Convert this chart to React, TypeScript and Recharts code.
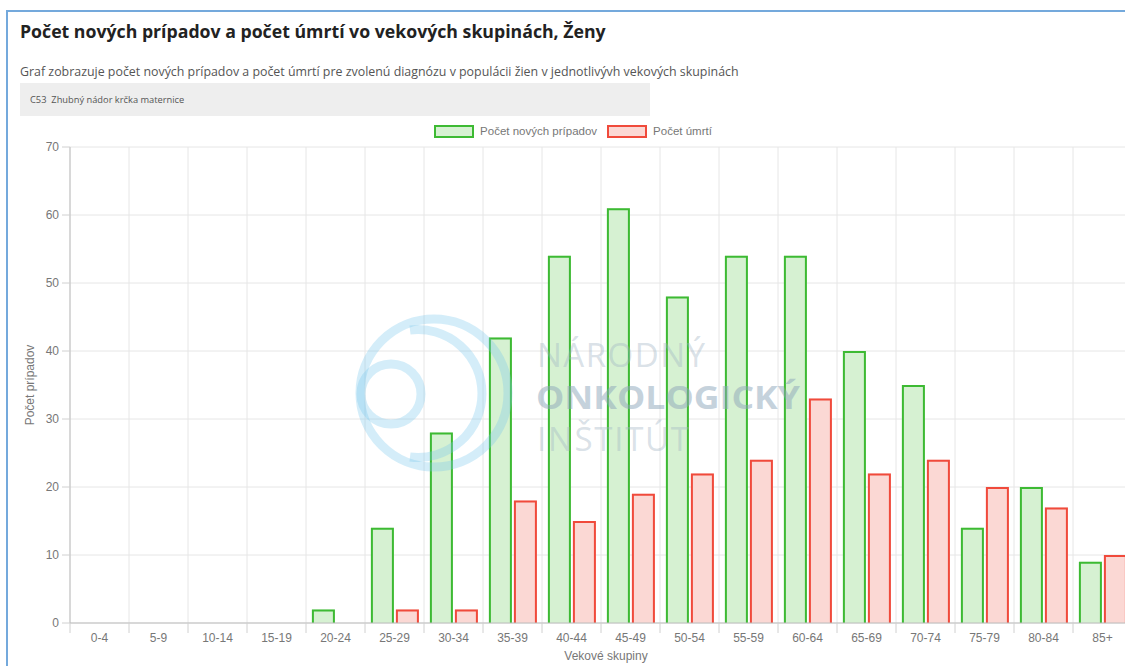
import { Bar, BarChart, CartesianGrid, Legend, XAxis, YAxis } from "recharts";

const ageGroups = [
  "0-4", "5-9", "10-14", "15-19", "20-24", "25-29", "30-34", "35-39", "40-44",
  "45-49", "50-54", "55-59", "60-64", "65-69", "70-74", "75-79", "80-84", "85+"
];
const newCases = [0, 0, 0, 0, 2, 14, 28, 42, 54, 61, 48, 54, 54, 40, 35, 14, 20, 9];
const deaths = [0, 0, 0, 0, 0, 2, 2, 18, 15, 19, 22, 24, 33, 22, 24, 20, 17, 10];
const yTicks = [0, 10, 20, 30, 40, 50, 60, 70];

const data = ageGroups.map((group, i) => ({ group, newCases: newCases[i], deaths: deaths[i] }));

const GREEN = "#3dba33";
const GREEN_FILL = "#d6f1d2";
const RED = "#f04a3b";
const RED_FILL = "#fbd8d4";
const AXIS_FONT = "'Liberation Sans', Arial, sans-serif";
const PAGE_FONT = "'Open Sans', 'Noto Sans', sans-serif";

const CHART_TOP = 114;
const CHART_W = 1140;
const CHART_H = 576;
const Y_AXIS_W = 70;
const MARGIN = { top: 7, right: 8, left: 0, bottom: 0 };
const PLOT_W = CHART_W - MARGIN.left - MARGIN.right - Y_AXIS_W;
const BAND = PLOT_W / ageGroups.length;

function OpenBar(props: any) {
  const { x, y, width, height, fill, stroke } = props;
  if (!height || height <= 0) return null;
  return (
    <g>
      <rect x={x} y={y} width={width} height={height} fill={fill} />
      <path
        d={`M${x + 1},${y + height} V${y + 1} H${x + width - 1} V${y + height}`}
        stroke={stroke}
        strokeWidth={2}
        fill="none"
      />
    </g>
  );
}

function AgeTick(props: any) {
  const { x, payload, index } = props;
  const axisY = CHART_H - 67 - MARGIN.bottom;
  const left = x - BAND / 2;
  return (
    <g>
      <line x1={left} x2={left} y1={axisY} y2={axisY + 10} stroke="#d0d0d0" />
      {index === ageGroups.length - 1 && (
        <line x1={x + BAND / 2} x2={x + BAND / 2} y1={axisY} y2={axisY + 10} stroke="#d0d0d0" />
      )}
      <text x={x} y={axisY + 19} textAnchor="middle" fill="#777" fontSize={12} fontFamily={AXIS_FONT}>
        {payload.value}
      </text>
    </g>
  );
}

function LegendBox() {
  const items = [
    { label: "Počet nových prípadov", stroke: GREEN, fill: GREEN_FILL },
    { label: "Počet úmrtí", stroke: RED, fill: RED_FILL }
  ];
  return (
    <div
      style={{
        height: 26,
        display: "flex",
        justifyContent: "center",
        gap: 10,
        paddingTop: 4,
        paddingLeft: 14,
        boxSizing: "border-box"
      }}
    >
      {items.map((it) => (
        <div key={it.label} style={{ display: "flex", alignItems: "center", height: 12 }}>
          <span
            style={{
              width: 36,
              height: 9,
              border: `2px solid ${it.stroke}`,
              background: it.fill,
              marginRight: 6,
              display: "inline-block"
            }}
          />
          <span style={{ fontFamily: AXIS_FONT, fontSize: 11.5, color: "#777" }}>{it.label}</span>
        </div>
      ))}
    </div>
  );
}

function Watermark() {
  return (
    <svg
      width={1125}
      height={666}
      style={{ position: "absolute", left: 0, top: 0, pointerEvents: "none" }}
    >
      <g fill="none" stroke="rgba(120, 200, 235, 0.32)" strokeWidth={9}>
        <circle cx={434} cy={393} r={74} />
        <path d="M 410 330 A 64 64 0 1 1 410 457" />
        <circle cx={391} cy={394} r={30} />
      </g>
      <g fontFamily={PAGE_FONT}>
        <text x={537} y={367} fontSize={33} fill="rgba(160, 180, 195, 0.4)" textLength={168} lengthAdjust="spacing">
          NÁRODNÝ
        </text>
        <text x={536} y={409} fontSize={33} fontWeight={700} fill="rgba(140, 165, 185, 0.5)" textLength={264} lengthAdjust="spacingAndGlyphs">
          ONKOLOGICKÝ
        </text>
        <text x={537} y={451} fontSize={33} fill="rgba(160, 180, 195, 0.4)" textLength={152} lengthAdjust="spacing">
          INŠTITÚT
        </text>
      </g>
    </svg>
  );
}

export default function App() {
  return (
    <div style={{ position: "fixed", inset: 0, overflow: "hidden", background: "#fff" }}>
      <div
        style={{
          position: "absolute",
          left: 6,
          top: 10,
          width: 1200,
          height: 700,
          borderLeft: "2px solid #74a9dc",
          borderTop: "2px solid #74a9dc"
        }}
      />
      <div
        style={{
          position: "absolute",
          left: 20,
          top: 19,
          fontFamily: PAGE_FONT,
          fontWeight: 700,
          fontSize: 17.7,
          color: "#222",
          whiteSpace: "nowrap"
        }}
      >
        Počet nových prípadov a počet úmrtí vo vekových skupinách, Ženy
      </div>
      <div
        style={{
          position: "absolute",
          left: 20,
          top: 63,
          fontFamily: PAGE_FONT,
          fontSize: 12.4,
          color: "#555",
          whiteSpace: "nowrap"
        }}
      >
        Graf zobrazuje počet nových prípadov a počet úmrtí pre zvolenú diagnózu v populácii žien v jednotlivývh vekových skupinách
      </div>
      <div
        style={{
          position: "absolute",
          left: 20,
          top: 83,
          width: 630,
          height: 33,
          background: "#eeeeee",
          fontFamily: PAGE_FONT,
          fontSize: 9.3,
          color: "#555",
          lineHeight: "33px",
          paddingLeft: 10,
          boxSizing: "border-box",
          whiteSpace: "pre"
        }}
      >
        C53  Zhubný nádor krčka maternice
      </div>
      <div style={{ position: "absolute", left: 0, top: CHART_TOP }}>
        <BarChart
          width={CHART_W}
          height={CHART_H}
          data={data}
          margin={MARGIN}
          barCategoryGap="10%"
          barGap={2}
        >
          <CartesianGrid
            stroke="#e6e6e6"
            verticalCoordinatesGenerator={({ offset }: any) =>
              ageGroups.map((_, i) => offset.left + i * (offset.width / ageGroups.length))
            }
          />
          <Legend verticalAlign="top" align="center" content={() => <LegendBox />} />
          <XAxis
            dataKey="group"
            height={67}
            interval={0}
            tickLine={false}
            axisLine={{ stroke: "#bdbdbd" }}
            tick={<AgeTick />}
            label={{
              content: () => (
                <text x={606} y={546} textAnchor="middle" fill="#777" fontSize={12} fontFamily={AXIS_FONT}>
                  Vekové skupiny
                </text>
              )
            }}
          />
          <YAxis
            width={Y_AXIS_W}
            domain={[0, 70]}
            ticks={yTicks}
            interval={0}
            tickSize={8}
            tickMargin={3}
            tickLine={{ stroke: "#d0d0d0" }}
            axisLine={{ stroke: "#bdbdbd" }}
            tick={{ fill: "#777", fontSize: 12, fontFamily: AXIS_FONT }}
            label={{
              content: () => (
                <text
                  transform="translate(30, 271) rotate(-90)"
                  textAnchor="middle"
                  dominantBaseline="central"
                  fill="#777"
                  fontSize={12}
                  fontFamily={AXIS_FONT}
                >
                  Počet prípadov
                </text>
              )
            }}
          />
          <Bar
            dataKey="newCases"
            name="Počet nových prípadov"
            fill={GREEN_FILL}
            stroke={GREEN}
            shape={<OpenBar />}
            isAnimationActive={false}
          />
          <Bar
            dataKey="deaths"
            name="Počet úmrtí"
            fill={RED_FILL}
            stroke={RED}
            shape={<OpenBar />}
            isAnimationActive={false}
          />
        </BarChart>
      </div>
      <Watermark />
    </div>
  );
}
